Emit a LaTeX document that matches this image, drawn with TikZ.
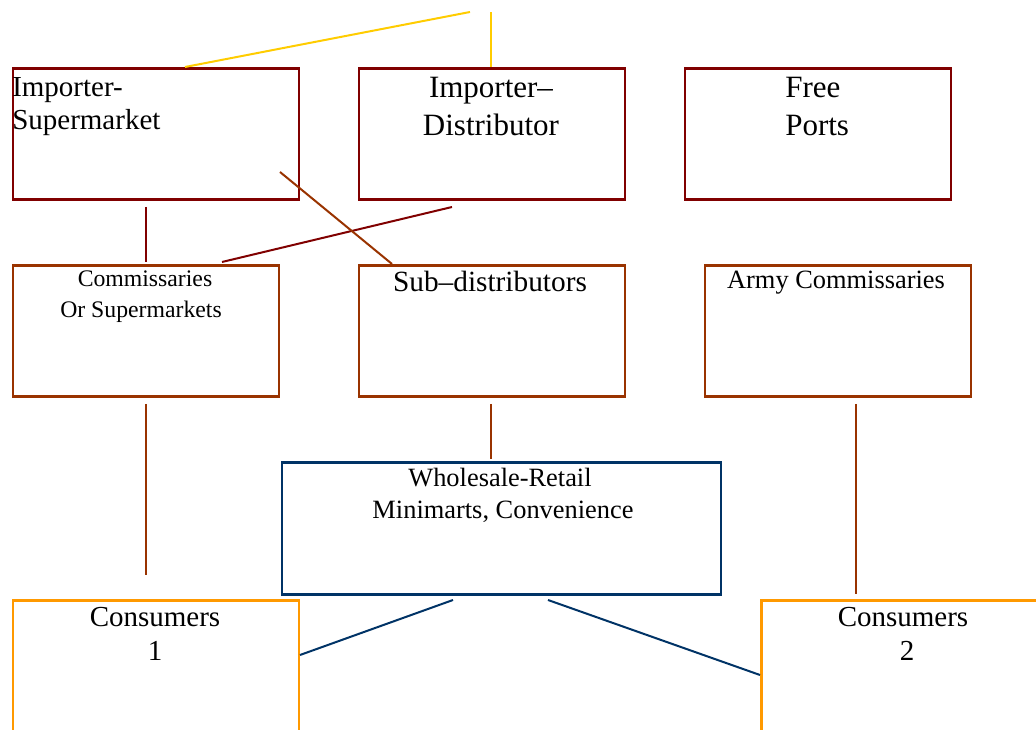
\documentclass[tikz,border=0pt]{standalone}
\usepackage{fontspec}
\setmainfont{Liberation Serif}
\definecolor{dred}{HTML}{800000}
\definecolor{brn}{HTML}{993300}
\definecolor{navy}{HTML}{003366}
\definecolor{org}{HTML}{FF9900}
\definecolor{ylw}{HTML}{FFCC00}
\newcommand{\fs}[1]{\fontsize{#1pt}{#1pt}\selectfont}
\begin{document}
\begin{tikzpicture}[x=0.75pt,y=-0.75pt,
  box/.style={draw, rectangle, inner sep=0pt, anchor=north west},
  topbox/.style={box, dred, line width=2.2pt, minimum width=286*0.75pt, minimum height=131*0.75pt},
  midbox/.style={box, brn, line width=1.9pt, minimum width=266*0.75pt, minimum height=131*0.75pt},
  txt/.style={anchor=base, text=black, inner sep=0pt},
  ltxt/.style={anchor=base west, text=black, inner sep=0pt},
  conn/.style={line width=1.5pt}]
\useasboundingbox (0,0) rectangle (1036,730);
\clip (0,0) rectangle (1036,730);
% top row
\node[topbox] (IS) at (11.5,67.5) {};
\node[topbox, minimum width=266*0.75pt] (ID) at (357.5,67.5) {};
\node[topbox, minimum width=266*0.75pt] (FP) at (683.5,67.5) {};
% middle row
\node[midbox] (CS) at (11.5,264.5) {};
\node[midbox] (SD) at (357.5,264.5) {};
\node[midbox] (AC) at (703.5,264.5) {};
% wholesale
\node[box, navy, line width=2.2pt, minimum width=439*0.75pt, minimum height=132*0.75pt] (WR) at (280.5,461.5) {};
% consumers
\node[box, org, line width=1.9pt, minimum width=286*0.75pt, minimum height=160*0.75pt] (C1) at (11.5,599.5) {};
\node[box, org, line width=1.9pt, minimum width=300*0.75pt, minimum height=160*0.75pt] (C2) at (760,599.5) {};
% texts
\node[ltxt, font=\fs{21.75}] (t1) at (12,97) {Importer-};
\node[ltxt, font=\fs{21.75}] (t2) at (12,130) {Supermarket};
\node[txt, font=\fs{23.25}] (t3) at (491,98) {Importer–};
\node[txt, font=\fs{23.25}] (t4) at (491,136) {Distributor};
\node[ltxt, font=\fs{23.25}] (t5) at (785,98) {Free};
\node[ltxt, font=\fs{23.25}] (t6) at (785,136) {Ports};
\node[txt, font=\fs{17.8}] (t7) at (145,287) {Commissaries};
\node[txt, font=\fs{17.8}] (t8) at (141,318) {Or Supermarkets};
\node[txt, font=\fs{22}] (t9) at (490,292) {Sub–distributors};
\node[txt, font=\fs{19.8}] (t10) at (836,289) {Army Commissaries};
\node[txt, font=\fs{19.8}] (t11) at (500,487) {Wholesale-Retail};
\node[txt, font=\fs{19.8}] (t12) at (503,519) {Minimarts, Convenience};
\node[txt, font=\fs{21.75}] (t13) at (155,627) {Consumers};
\node[txt, font=\fs{21.75}] (t14) at (155,661) {1};
\node[txt, font=\fs{21.75}] (t15) at (903,627) {Consumers};
\node[txt, font=\fs{21.75}] (t16) at (907,661) {2};
% free-end coordinates
\coordinate (y1) at (470,12);
\coordinate (y2) at (491,12);
\coordinate (isT) at (185,67);
\coordinate (idT) at (491,67);
\coordinate (isB) at (146,207);
\coordinate (csT) at (146,262);
\coordinate (idB) at (452,207);
\coordinate (csT2) at (222,262);
\coordinate (isIn) at (280,172);
\coordinate (sdT) at (392,264);
\coordinate (csB) at (146,404);
\coordinate (csE) at (146,575);
\coordinate (sdB) at (491,404);
\coordinate (wrT) at (491,459);
\coordinate (acB) at (856,404);
\coordinate (c2T) at (856,594);
\coordinate (wrB1) at (453,600);
\coordinate (c1R) at (300,655);
\coordinate (wrB2) at (548,600);
\coordinate (c2L) at (760,675);
% connectors
\draw[conn, ylw] (isT) -- (y1);
\draw[conn, ylw, line width=2pt] (idT) -- (y2);
\draw[dred, line width=2.2pt] (isB) -- (csT);
\draw[conn, dred] (idB) -- (csT2);
\draw[conn, brn] (isIn) -- (sdT);
\draw[brn, line width=2pt] (csB) -- (csE);
\draw[brn, line width=2pt] (sdB) -- (wrT);
\draw[brn, line width=2pt] (acB) -- (c2T);
\draw[conn, navy] (wrB1) -- (c1R);
\draw[conn, navy] (wrB2) -- (c2L);
\end{tikzpicture}
\end{document}
